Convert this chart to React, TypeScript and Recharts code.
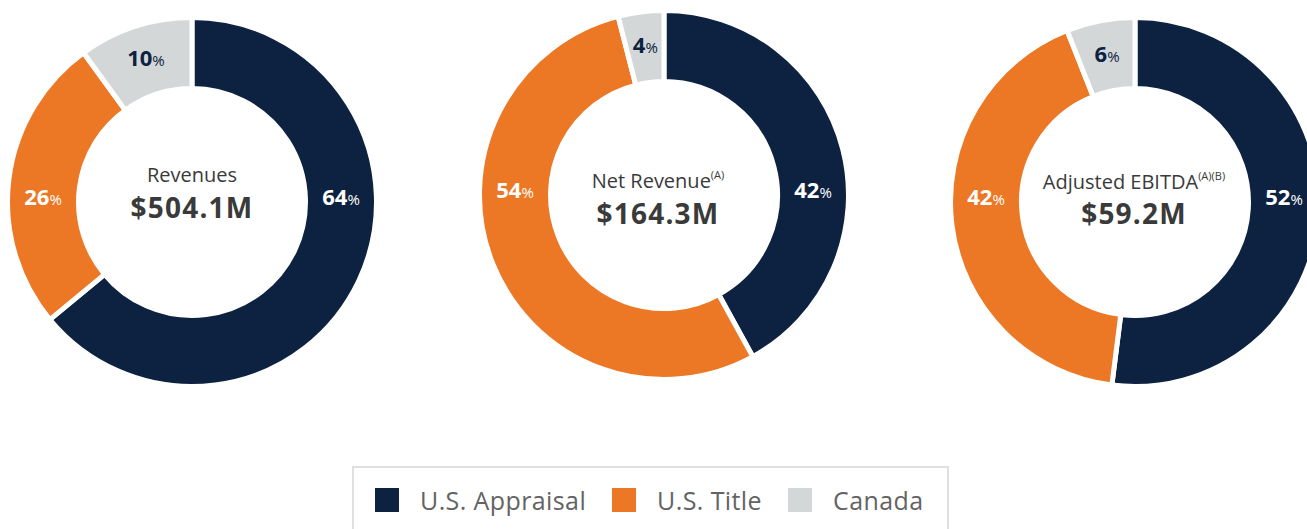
import { PieChart, Pie, Cell } from "recharts";

const CATEGORIES = ["U.S. Appraisal", "U.S. Title", "Canada"];
const COLORS = ["#0c2240", "#ec7725", "#d3d7d8"];

const REVENUES = [64, 26, 10];
const NET_REVENUE = [42, 54, 4];
const ADJ_EBITDA = [52, 42, 6];

const TITLES = ["Revenues", "Net Revenue", "Adjusted EBITDA"];
const NOTES = ["", "(A)", "(A)(B)"];
const TOTALS = ["$504.1M", "$164.3M", "$59.2M"];

const FONT = "'Open Sans', Lato, sans-serif";
const RADIAN = Math.PI / 180;

const toRows = (values: number[]) => CATEGORIES.map((name, i) => ({ name, value: values[i] }));

// first two shares sit at 3 and 9 o'clock, the small one at its own mid angle
const renderLabel = (props: any) => {
  const { cx, cy, midAngle, innerRadius, outerRadius, index, value } = props;
  const angle = index === 0 ? 0 : index === 1 ? 180 : midAngle;
  const r = (innerRadius + outerRadius) / 2;
  const x = cx + r * Math.cos(-angle * RADIAN);
  const y = cy + r * Math.sin(-angle * RADIAN);
  return (
    <text
      x={x}
      y={y + (index === 2 ? 6 : 3)}
      textAnchor="middle"
      fill={index === 2 ? "#0c2240" : "#fff"}
      fontFamily={FONT}
    >
      <tspan fontWeight={700} fontSize={22}>{value}</tspan>
      <tspan fontSize={15}>%</tspan>
    </text>
  );
};

function Donut({ values, left, top }: { values: number[]; left: number; top: number }) {
  return (
    <div style={{ position: "absolute", left, top }}>
      <PieChart width={400} height={400} margin={{ top: 0, right: 0, bottom: 0, left: 0 }}>
        <Pie
          data={toRows(values)}
          dataKey="value"
          cx="50%"
          cy="50%"
          startAngle={90}
          endAngle={-270}
          innerRadius={113.5}
          outerRadius={184.5}
          stroke="#fff"
          strokeWidth={5}
          label={renderLabel}
          labelLine={false}
          isAnimationActive={false}
        >
          {values.map((_, i) => (
            <Cell key={i} fill={COLORS[i]} />
          ))}
        </Pie>
      </PieChart>
    </div>
  );
}

const CENTERS = [
  { x: 192, t: 182, v: 218 },
  { x: 658, t: 188, v: 224 },
  { x: 1134, t: 189, v: 224 },
];

export default function App() {
  return (
    <div style={{ position: "relative", width: 1307, height: 529, overflow: "hidden", background: "#fff" }}>
      <style>{`body{margin:0}`}</style>
      <Donut values={REVENUES} left={-8} top={2} />
      <Donut values={NET_REVENUE} left={464} top={-5} />
      <Donut values={ADJ_EBITDA} left={935} top={2} />

      <svg
        width={1307}
        height={440}
        style={{ position: "absolute", left: 0, top: 0, pointerEvents: "none" }}
      >
        {CENTERS.map((c, i) => (
          <g key={i} fontFamily={FONT} fill="#3a3a3a" textAnchor="middle">
            <text x={c.x} y={c.t} fontSize={20}>
              {TITLES[i]}
              {NOTES[i] && (
                <tspan fontSize={11} dy={-9}>
                  {NOTES[i]}
                </tspan>
              )}
            </text>
            <text x={c.x} y={c.v} fontSize={28} fontWeight={700} letterSpacing={1.2}>
              {TOTALS[i]}
            </text>
          </g>
        ))}
      </svg>

      <div
        style={{
          position: "absolute",
          left: 352,
          top: 466,
          width: 597,
          height: 90,
          border: "2px solid #dfe1e1",
          boxSizing: "border-box",
          display: "flex",
          alignItems: "flex-start",
          paddingLeft: 21,
          paddingTop: 20,
          fontFamily: FONT,
          fontSize: 25,
          letterSpacing: 0.4,
          color: "#636363",
          whiteSpace: "nowrap",
        }}
      >
        {CATEGORIES.map((name, i) => (
          <div
            key={name}
            style={{ display: "flex", alignItems: "center", marginRight: 26, height: 24, flexShrink: 0 }}
          >
            <div style={{ width: 24, height: 24, background: COLORS[i], marginRight: 21, flexShrink: 0 }} />
            <span style={{ lineHeight: "24px" }}>{name}</span>
          </div>
        ))}
      </div>
    </div>
  );
}
